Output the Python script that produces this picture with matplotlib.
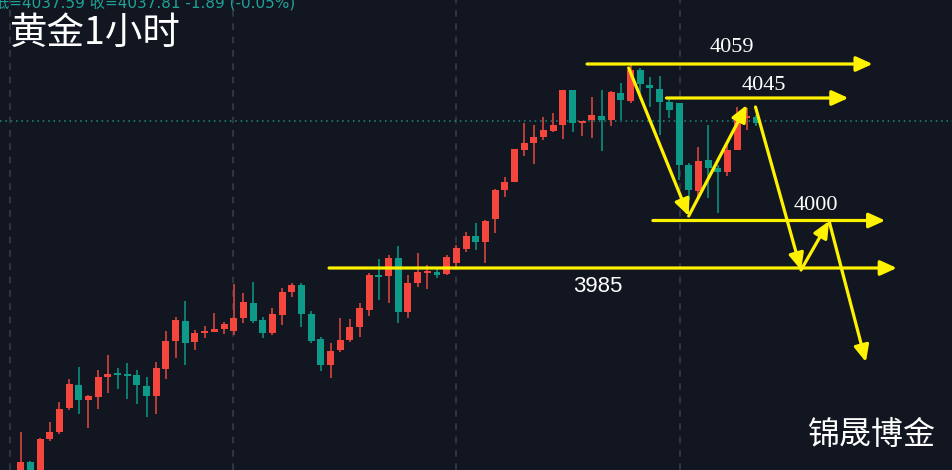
import numpy as np
import matplotlib.pyplot as plt

plt.rcParams['font.family'] = ['Noto Sans CJK SC', 'DejaVu Sans']

# gold 1h candles
opens = [3895.6, 3902.8, 3896.4, 3912.0, 3914.8, 3924.4, 3933.6, 3927.6, 3928.8, 3936.8,
         3938.4, 3938.0, 3937.6, 3933.2, 3929.2, 3940.0, 3951.2, 3959.2, 3950.8, 3954.4,
         3954.8, 3956.0, 3955.2, 3960.4, 3966.4, 3959.6, 3954.4, 3961.6, 3970.8, 3973.6,
         3962.0, 3952.0, 3941.6, 3947.6, 3951.6, 3956.8, 3963.6, 3977.6, 3977.2, 3984.4,
         3962.8, 3974.4, 3978.4, 3978.8, 3978.0, 3982.4, 3988.0, 3993.2, 3990.8, 4000.0,
         4011.6, 4014.8, 4027.6, 4030.4, 4032.8, 4035.2, 4037.6, 4051.6, 4038.4, 4039.6,
         4041.2, 4039.6, 4050.4, 4047.2, 4059.6, 4053.6, 4052.0, 4046.8, 4046.4, 4021.6,
         4011.2, 4023.6, 4020.4, 4018.8, 4027.6, 4040.4, 4040.8]
highs = [3914.8, 3903.2, 3912.4, 3918.8, 3926.8, 3936.0, 3940.8, 3929.6, 3939.6, 3945.6,
         3940.4, 3942.4, 3939.6, 3936.8, 3942.8, 3955.2, 3960.8, 3967.2, 3955.6, 3957.2,
         3962.4, 3958.8, 3974.0, 3970.4, 3974.8, 3960.8, 3964.4, 3972.4, 3974.4, 3974.4,
         3963.2, 3952.8, 3950.4, 3960.4, 3960.0, 3966.4, 3978.4, 3984.0, 3985.6, 3989.2,
         3977.6, 3986.4, 3981.6, 3980.0, 3985.6, 3989.6, 3994.8, 3998.4, 3999.6, 4012.0,
         4016.8, 4028.0, 4038.4, 4037.6, 4040.8, 4042.4, 4051.6, 4051.6, 4039.2, 4048.8,
         4051.6, 4051.2, 4054.4, 4061.6, 4060.4, 4056.8, 4057.2, 4048.4, 4046.4, 4022.4,
         4028.8, 4037.6, 4021.6, 4029.6, 4044.8, 4044.4, 4041.6]
lows = [3892.4, 3893.6, 3894.0, 3911.2, 3914.0, 3923.6, 3922.0, 3916.4, 3924.0, 3930.4,
        3932.0, 3928.0, 3926.0, 3920.8, 3922.0, 3936.0, 3944.4, 3941.6, 3947.6, 3952.4,
        3954.8, 3954.0, 3953.6, 3958.4, 3958.4, 3952.4, 3953.6, 3957.6, 3968.8, 3956.8,
        3950.4, 3939.2, 3936.4, 3946.8, 3950.8, 3952.8, 3961.2, 3967.6, 3966.4, 3958.4,
        3960.4, 3972.8, 3972.0, 3976.4, 3977.6, 3980.8, 3986.8, 3987.6, 3982.4, 3994.4,
        4008.8, 4014.8, 4025.2, 4022.0, 4031.6, 4034.8, 4032.0, 4034.8, 4033.2, 4032.4,
        4027.2, 4037.2, 4039.6, 4046.4, 4050.4, 4044.8, 4033.6, 4040.4, 4015.6, 4007.6,
        4008.8, 4008.4, 4002.4, 4017.2, 4027.6, 4035.6, 4037.2]
closes = [3902.8, 3896.4, 3912.0, 3914.8, 3924.0, 3934.0, 3927.6, 3929.2, 3936.8, 3938.0,
          3937.6, 3937.2, 3933.6, 3929.2, 3940.4, 3951.2, 3959.6, 3950.4, 3954.4, 3955.2,
          3956.0, 3958.0, 3960.4, 3966.8, 3959.2, 3954.4, 3962.0, 3970.8, 3973.6, 3962.0,
          3951.2, 3941.6, 3947.2, 3951.6, 3956.8, 3964.4, 3977.6, 3976.8, 3984.4, 3962.8,
          3974.4, 3978.8, 3979.2, 3977.6, 3984.8, 3988.4, 3993.2, 3990.8, 3999.2, 4011.6,
          4014.8, 4028.0, 4030.4, 4032.8, 4035.6, 4037.6, 4051.6, 4038.4, 4039.2, 4041.6,
          4039.6, 4050.8, 4047.6, 4059.6, 4054.0, 4052.4, 4046.8, 4043.6, 4021.6, 4011.6,
          4023.2, 4020.4, 4018.8, 4027.6, 4041.6, 4040.8, 4038.4]

time_grid = [-1.1, 21.9, 45.0, 68.1]
last_price = 4039.2

# hand drawn levels
level_labels = ['4059', '4045', '4000', '3985']
level_prices = [4062.0, 4048.4, 3999.4, 3980.4]
level_start = [58.5, 66.7, 65.3, 31.85]
level_end = [88.0, 85.5, 89.3, 90.5]
label_x = [73.5, 76.8, 82.1, 59.6]
label_y = [4068.4, 4053.6, 4005.2, 3972.8]

# zigzag path arrows (from, to)
zig_from = [(62.8, 4060.4), (69.0, 4001.2), (75.9, 4044.8), (80.6, 3979.6), (83.5, 3999.2)]
zig_to = [(69.0, 4001.2), (75.0, 4045.6), (80.6, 3979.6), (83.5, 3999.2), (87.3, 3942.8)]

bg = '#121621'
red = '#F5463E'
green = '#0E9A88'
yellow = '#FFF200'

fig = plt.figure(figsize=(9.53, 4.70), dpi=100, facecolor=bg)
ax = fig.add_axes([0, 0, 1, 1])
ax.set_facecolor(bg)
ax.set_xlim(-2.14, 96.3)
ax.set_ylim(3899.6, 4087.6)
ax.axis('off')

for g in time_grid:
    ax.axvline(g, color='#373b47', lw=1.2, ls=(0, (4, 4)), zorder=0)
ax.axhline(last_price, color='#1b8c80', lw=1.1, ls=(0, (1, 2.5)), zorder=1)

o = np.array(opens)
h = np.array(highs)
l = np.array(lows)
c = np.array(closes)
idx = np.arange(len(o))
up = c >= o
cols = np.where(up, red, green)
wick_cols = np.where(up, '#C8413A', '#0C8577')
ax.vlines(idx, l, h, colors=wick_cols, lw=1.3, zorder=2)
ax.bar(idx, np.maximum(np.abs(c - o), 0.7), bottom=np.minimum(o, c), width=0.72,
       color=cols, zorder=3, linewidth=0)

arrow_kw = dict(arrowstyle='-|>,head_length=0.55,head_width=0.25', color=yellow, lw=2.3,
                mutation_scale=18, shrinkA=0, shrinkB=0)
for lab, p, s, e, tx, ty in zip(level_labels, level_prices, level_start, level_end, label_x, label_y):
    ax.annotate('', xy=(e, p), xytext=(s, p), arrowprops=arrow_kw, zorder=5)
    fam = ['Liberation Sans'] if lab == '3985' else ['Liberation Serif']
    ax.text(tx, ty, lab, color='white', fontsize=16, ha='center', va='center', family=fam, zorder=6)

for a, b in zip(zig_from, zig_to):
    ax.annotate('', xy=b, xytext=a, arrowprops=arrow_kw, zorder=5)

ax.text(-0.006, 0.984, '低=4037.59 收=4037.81 -1.89 (-0.05%)', transform=ax.transAxes,
        color='#1ea398', fontsize=11, ha='left', va='baseline', family=['DejaVu Sans', 'Noto Sans CJK SC'])
ax.text(0.011, 0.93, '黄金1小时', transform=ax.transAxes, color='white', fontsize=27,
        ha='left', va='center', fontweight='medium')
ax.text(0.982, 0.075, '锦晟博金', transform=ax.transAxes, color='white', fontsize=23,
        ha='right', va='center', fontweight='medium')

fig.savefig('out.png', dpi=100, facecolor=bg)
